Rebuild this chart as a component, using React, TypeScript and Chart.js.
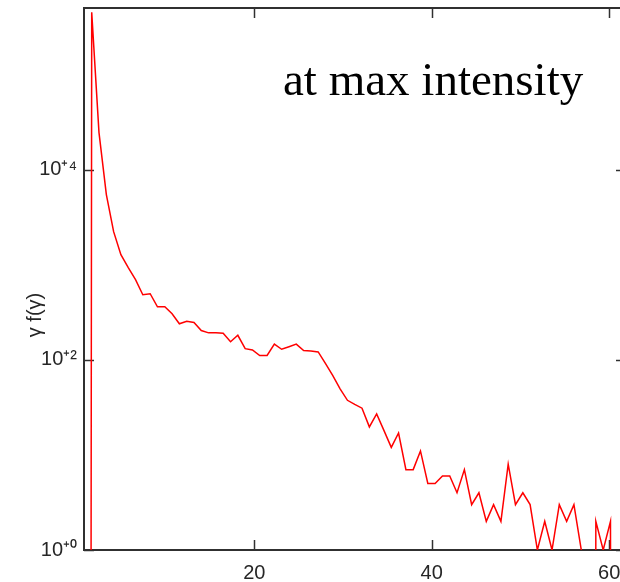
import React, { useEffect, useRef } from 'react';
import { Chart, registerables } from 'chart.js';

Chart.register(...registerables);

// gamma values of the histogram bins (x axis)
const GAMMA = [
  0.84, 1.67, 2.49, 3.32, 4.14, 4.96, 5.79, 6.61, 7.43, 8.26, 9.08,
  9.91, 10.73, 11.55, 12.38, 13.2, 14.02, 14.85, 15.67, 16.49, 17.32,
  18.14, 18.97, 19.79, 20.61, 21.44, 22.26, 23.08, 23.91, 24.73, 25.56,
  26.38, 27.2, 28.03, 28.85, 29.67, 30.5, 31.32, 32.14, 32.97, 33.79,
  34.62, 35.44, 36.26, 37.09, 37.91, 38.73, 39.56, 40.38, 41.21, 42.03,
  42.85, 43.68, 44.5, 45.32, 46.15, 46.97, 47.8, 48.62, 49.44, 50.27,
  51.09, 51.91, 52.74, 53.56, 54.38, 55.21, 56.03, 56.86, 57.68, 58.5,
  59.33, 60.15, 60.97, 61.8,
];

// gamma f(gamma) (0 = empty bin)
const GAMMA_F = [
  0, 450000, 24500, 5460, 2225, 1275, 930, 695, 483, 495, 361,
  361, 305, 239, 254, 247, 203, 192, 192, 190, 155,
  181, 131, 127, 111, 111, 146, 129, 137, 146, 125,
  124, 121, 91, 68, 49.5, 37.5, 34, 31, 19.7, 27,
  18, 12, 17, 7, 7, 11, 5, 5, 6, 6,
  4, 7, 3, 4, 2, 3, 2, 8, 3, 4,
  3, 1, 2, 1, 3, 2, 3, 1, 0, 2,
  1, 2, 0, 0,
];

const X_TICKS = [5, 10, 15, 20, 25, 30, 35, 40, 45, 50, 55, 60];
const X_LABELED = [20, 40, 60];
const Y_TICKS = [1, 2, 5, 10, 20, 50, 100, 200, 500, 1e3, 2e3, 5e3, 1e4, 2e4, 5e4, 1e5, 2e5, 5e5];
const Y_LABELS: Record<number, string> = { 1: '10⁺⁰', 100: '10⁺²', 10000: '10⁺⁴' };

const TITLE_TEXT = 'at max intensity';
const Y_TITLE = 'γ f(γ)';

// empty bins: log(0) falls far below the axis, giving vertical drops as in the original
const EMPTY_BIN = 1e-60;

const AXIS = '#303030';
const LABEL = '#262626';

const decor = {
  id: 'decor',
  beforeDatasetsDraw(chart: any) {
    const { ctx, chartArea } = chart;
    const { left, right, top, bottom } = chartArea;
    const xs = chart.scales.x;
    const ys = chart.scales.y;
    ctx.save();
    ctx.strokeStyle = AXIS;
    ctx.lineWidth = 1.5;
    const seg = (x1: number, y1: number, x2: number, y2: number) => {
      ctx.beginPath();
      ctx.moveTo(x1, y1);
      ctx.lineTo(x2, y2);
      ctx.stroke();
    };
    xs.ticks.forEach((t: any) => {
      const px = Math.round(xs.getPixelForValue(t.value)) + 0.5;
      const len = X_LABELED.includes(t.value) ? 10 : t.value % 10 === 0 ? 7 : 4;
      seg(px, bottom, px, bottom - len);
      seg(px, top, px, top + len);
    });
    ys.ticks.forEach((t: any) => {
      const py = Math.round(ys.getPixelForValue(t.value)) + 0.5;
      const e = Math.log10(t.value);
      const decade = Math.abs(e - Math.round(e)) < 1e-9;
      const len = Y_LABELS[t.value] ? 10 : decade ? 7 : 5;
      seg(left, py, left + len, py);
      seg(right, py, right - len, py);
    });
    ctx.lineWidth = 2;
    seg(left, top, right, top);
    seg(right, top, right, bottom);
    ctx.restore();
  },
  afterDraw(chart: any) {
    const { ctx } = chart;
    ctx.save();
    ctx.fillStyle = '#000';
    ctx.font = '47px "Liberation Serif", "Times New Roman", serif';
    ctx.textAlign = 'left';
    ctx.textBaseline = 'alphabetic';
    ctx.fillText(TITLE_TEXT, 283, 95);

    ctx.fillStyle = LABEL;
    ctx.font = '20px "Liberation Sans", Arial, sans-serif';
    ctx.translate(35, 315);
    ctx.rotate(-Math.PI / 2);
    ctx.textAlign = 'center';
    ctx.textBaseline = 'middle';
    ctx.fillText(Y_TITLE, 0, 0);
    ctx.restore();
  },
};

const noPad = (s: any) => {
  s.paddingTop = 0;
  s.paddingBottom = 0;
  s.paddingLeft = 0;
  s.paddingRight = 0;
};

export default function App() {
  const ref = useRef<HTMLCanvasElement | null>(null);

  useEffect(() => {
    if (!ref.current) return;
    const points = GAMMA.map((g, i) => ({ x: g, y: GAMMA_F[i] > 0 ? GAMMA_F[i] : EMPTY_BIN }));
    const chart = new Chart(ref.current, {
      type: 'line',
      data: {
        datasets: [
          {
            data: points,
            borderColor: 'rgb(255,0,0)',
            borderWidth: 1.5,
            pointRadius: 0,
            tension: 0,
            fill: false,
          },
        ],
      },
      options: {
        animation: false,
        responsive: false,
        events: [],
        layout: { padding: { top: 8, right: 14, left: 0, bottom: 0 } },
        plugins: {
          legend: { display: false },
          tooltip: { enabled: false },
          title: { display: false },
        },
        scales: {
          x: {
            type: 'linear',
            min: 0.8,
            max: 61.9,
            afterBuildTicks: (s: any) => {
              s.ticks = X_TICKS.map((v) => ({ value: v }));
            },
            afterFit: (s: any) => {
              s.height = 32;
              noPad(s);
            },
            grid: { display: false, drawTicks: false },
            border: { display: true, color: AXIS, width: 2 },
            ticks: {
              autoSkip: false,
              maxRotation: 0,
              padding: 11,
              color: LABEL,
              font: { family: '"Liberation Sans", Arial, sans-serif', size: 20 },
              callback: (v: any) => (X_LABELED.includes(Number(v)) ? String(v) : null),
            },
          },
          y: {
            type: 'logarithmic',
            min: 1,
            max: 5e5,
            afterBuildTicks: (s: any) => {
              s.ticks = Y_TICKS.map((v) => ({ value: v }));
            },
            afterFit: (s: any) => {
              s.width = 84;
              noPad(s);
            },
            grid: { display: false, drawTicks: false },
            border: { display: true, color: AXIS, width: 2 },
            ticks: {
              autoSkip: false,
              padding: 7,
              color: LABEL,
              font: { family: '"Liberation Sans", Arial, sans-serif', size: 20 },
              callback: (v: any) => Y_LABELS[Number(v)] ?? null,
            },
          },
        },
      } as any,
      plugins: [decor],
    });
    return () => chart.destroy();
  }, []);

  return (
    <div
      style={{
        position: 'fixed',
        left: 0,
        top: 0,
        width: 620,
        height: 582,
        overflow: 'hidden',
        background: '#fff',
      }}
    >
      <canvas ref={ref} width={640} height={582} style={{ display: 'block' }} />
    </div>
  );
}
